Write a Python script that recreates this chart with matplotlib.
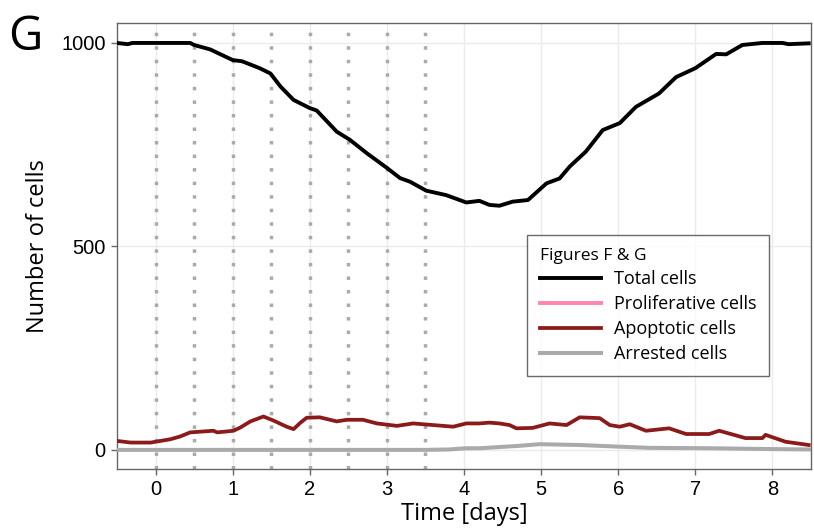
import matplotlib.pyplot as plt
import numpy as np

# Total cells
t_total = [-0.5, -0.36, -0.3, 0.0, 0.45, 0.5, 0.71, 1.0, 1.12, 1.19, 1.35, 1.49,
           1.62, 1.79, 2.0, 2.09, 2.35, 2.52, 2.74, 3.0, 3.17, 3.30, 3.51, 3.77,
           4.03, 4.2, 4.33, 4.46, 4.63, 4.83, 5.07, 5.24, 5.37, 5.58, 5.80, 6.02,
           6.23, 6.53, 6.75, 7.0, 7.27, 7.40, 7.61, 7.87, 8.13, 8.21, 8.47]
total = [1000, 997, 1000, 1000, 1000, 995, 984, 958, 955, 950, 938, 925,
         893, 860, 840, 834, 782, 762, 729, 693, 668, 659, 637, 626,
         608, 612, 602, 600, 610, 614, 655, 667, 696, 733, 786, 803,
         843, 876, 916, 938, 973, 972, 995, 1000, 1000, 997, 999]

# Apoptotic cells
t_apo = [-0.5, -0.32, -0.06, 0.0, 0.19, 0.32, 0.45, 0.75, 0.8, 1.01, 1.1, 1.23,
         1.40, 1.53, 1.70, 1.79, 1.88, 1.96, 2.13, 2.35, 2.48, 2.69, 2.87, 3.13,
         3.34, 3.60, 3.86, 4.03, 4.20, 4.33, 4.46, 4.59, 4.68, 4.89, 5.11, 5.33,
         5.50, 5.76, 5.89, 6.02, 6.15, 6.36, 6.66, 6.88, 7.18, 7.31, 7.65, 7.87,
         7.91, 8.17, 8.47]
apoptotic = [22, 18, 18, 20, 26, 33, 43, 47, 43, 47, 55, 70,
             82, 72, 57, 51, 67, 79, 80, 70, 74, 74, 65, 59,
             65, 61, 57, 65, 65, 67, 65, 61, 53, 54, 65, 61,
             80, 78, 61, 57, 63, 47, 53, 39, 39, 47, 29, 29,
             37, 20, 12]

# Arrested cells
t_arr = [-0.5, 3.5, 3.8, 4.03, 4.2, 4.72, 4.98, 5.5, 6.0, 6.4, 7.2, 8.0, 8.5]
arrested = [0, 0, 1, 4, 4, 10, 14, 12, 8, 5, 4, 2, 1]

# Proliferative cells: not visible in the plot, only in the legend
t_pro = []
proliferative = []

x_ticks = [0, 1, 2, 3, 4, 5, 6, 7, 8]
y_ticks = [0, 500, 1000]
dose_times = [0, 0.5, 1, 1.5, 2, 2.5, 3, 3.5]

fig = plt.figure(figsize=(8.14, 5.29), dpi=100)
ax = fig.add_axes([0.1437, 0.1134, 0.8526, 0.8431])

ax.set_xlim(-0.5, 8.5)
ax.set_ylim(-47, 1049)
ax.set_xticks(x_ticks)
ax.set_yticks(y_ticks)
ax.grid(True, color='#ebebeb', linewidth=1.0)
ax.set_axisbelow(True)

for d in dose_times:
    ax.axvline(d, color='#aaaaaa', linewidth=2.5, linestyle=(0, (1, 2.9)), zorder=1.5)

ax.plot(t_pro, proliferative, color='#ff85b0', linewidth=2.8, label='Proliferative cells', zorder=2)
ax.plot(t_arr, arrested, color='#aaaaaa', linewidth=2.9, label='Arrested cells', zorder=3)
ax.plot(t_apo, apoptotic, color='#8b1a1a', linewidth=2.7, label='Apoptotic cells', zorder=4)
ax.plot(t_total, total, color='black', linewidth=2.8, label='Total cells', zorder=5)

for s in ax.spines.values():
    s.set_color('#666666')
    s.set_linewidth(1.0)
ax.tick_params(axis='both', colors='#666666', length=4, width=1.0, labelsize=14.5,
               labelcolor='black', pad=4)
for lab in ax.get_xticklabels() + ax.get_yticklabels():
    lab.set_fontfamily('Liberation Sans')

ax.set_xlabel('Time [days]', fontsize=17, family='Open Sans', labelpad=2)
ax.set_ylabel('Number of cells', fontsize=17, family='Open Sans', labelpad=8)

handles, labels = ax.get_legend_handles_labels()
order = ['Total cells', 'Proliferative cells', 'Apoptotic cells', 'Arrested cells']
hmap = dict(zip(labels, handles))
leg = ax.legend([hmap[k] for k in order], order, title='Figures F & G',
                loc='upper left', bbox_to_anchor=(0.591, 0.525), borderaxespad=0,
                prop={'family': 'Open Sans', 'size': 13},
                title_fontproperties={'family': 'Open Sans', 'size': 12.5},
                frameon=True, fancybox=False, edgecolor='#444444',
                handlelength=3.4, labelspacing=0.38, borderpad=0.7, handletextpad=0.7)
leg._legend_box.align = 'left'
leg.get_frame().set_linewidth(1.0)

fig.text(0.010, 0.975, 'G', fontsize=34, family='Open Sans', va='top', ha='left')

fig.savefig('out.png', dpi=100)
